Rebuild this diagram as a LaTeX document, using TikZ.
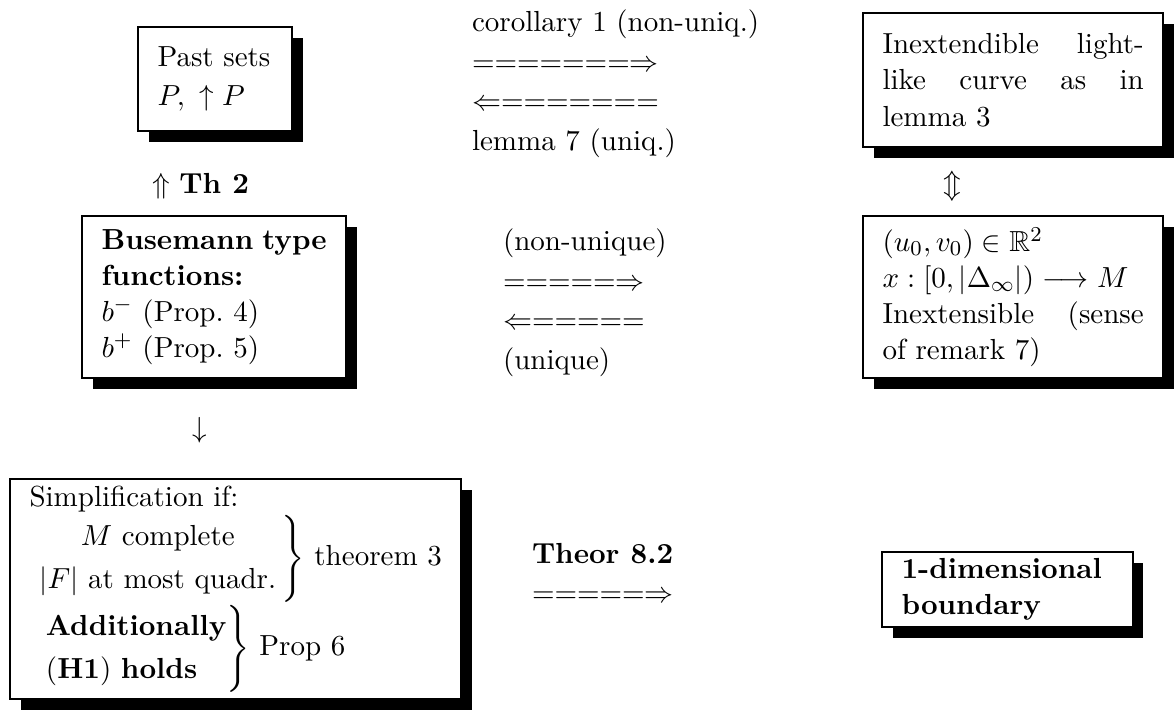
\documentclass[tikz,border=0pt,11pt]{standalone}
\usepackage{amsmath}
\usepackage{amssymb}
\usetikzlibrary{shadows}

\tikzset{
  boite/.style={draw, line width=0.9pt, fill=white, anchor=north west,
    inner xsep=7.3pt, inner ysep=2pt, align=justify,
    drop shadow={shadow xshift=4pt, shadow yshift=-4pt, fill=black, opacity=1}},
  lien/.style={inner sep=0pt, outer sep=0pt},
}

\begin{document}
\begin{tikzpicture}[x=0.3774pt, y=-0.3774pt]
      \useasboundingbox (0,0) rectangle (1176,720);

      % Boîtes ombrées
      \node[boite, text width=43.5pt, minimum height=39.2pt] (Passe) at (137,26)
        {Past sets\\[1pt] $P,\ \uparrow P$};
      \node[boite, text width=98.6pt, minimum height=50.6pt] (Courbe) at (862,12)
        {Inextendible light-like curve as in lemma 3};
      \node[boite, text width=85pt, minimum height=61.1pt] (Busemann) at (81,215)
        {\textbf{Busemann type functions:}\\ $b^-$ (Prop.~4)\\ $b^+$ (Prop.~5)};
      \node[boite, text width=98.6pt, minimum height=61.1pt] (Param) at (862,215)
        {$(u_0,v_0)\in\mathbb{R}^2$\\ $x:[0,|\Delta_\infty|)\longrightarrow M$\\
         Inextensible (sense of remark 7)};
      \node[boite, inner ysep=0.5pt, minimum height=83pt, align=left] (Simpl) at (9,478)
        {Simplification if:\\
         \hspace*{2.6pt}$\renewcommand{\arraystretch}{1.2}\left.\begin{tabular}{@{}c@{\hspace{2pt}}}
           $M$ complete\\ $|F|$ at most quadr.
         \end{tabular}\right\}$ theorem 3\\
         \hspace*{5pt}$\renewcommand{\arraystretch}{1.2}\left.\begin{tabular}{@{}l@{}}
           \textbf{Additionally}\\ (\textbf{H1}) \textbf{holds}
         \end{tabular}\right\}$ Prop 6};
      \node[boite, text width=80pt, minimum height=28.3pt, align=left] (Bord) at (881,551)
        {\textbf{1-dimensional}\\ \textbf{boundary}};

      % Implications entre les boîtes
      \node[lien, anchor=west] (Corollaire) at (472,83) {%
        \renewcommand{\arraystretch}{1.1}%
        \begin{tabular}{@{}l@{}}
          corollary 1 (non-uniq.)\\
          $=======\Rightarrow$\\
          $\Leftarrow=======$\\
          lemma 7 (uniq.)
        \end{tabular}};
      \node[lien, anchor=west] (Unicite) at (503,302) {%
        \renewcommand{\arraystretch}{1.1}%
        \begin{tabular}{@{}l@{}}
          (non-unique)\\
          $=====\Rightarrow$\\
          $\Leftarrow=====$\\
          (unique)
        \end{tabular}};
      \node[lien, anchor=west] (Theor) at (532,575) {%
        \renewcommand{\arraystretch}{1.1}%
        \begin{tabular}{@{}l@{}}
          \textbf{Theor 8.2}\\
          $=====\Rightarrow$
        \end{tabular}};

      \node[anchor=base] (ThDeux) at (200.5,193) {$\Uparrow$ \textbf{Th 2}};
      \node (Equiv) at (952,186) {$\Updownarrow$};
      \node (Bas) at (200,430) {$\downarrow$};
    \end{tikzpicture}
\end{document}
